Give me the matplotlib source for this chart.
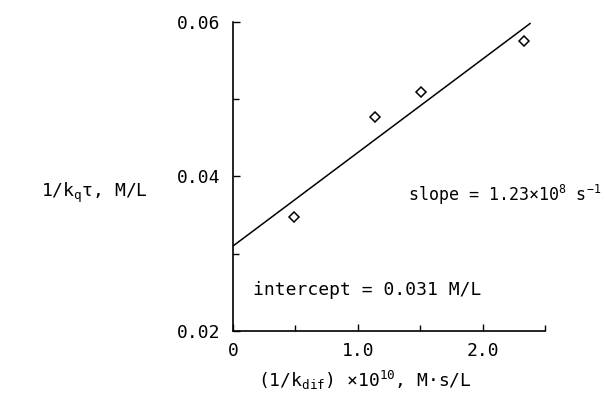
import matplotlib
matplotlib.use("Agg")
import matplotlib.pyplot as plt
from matplotlib.ticker import FixedLocator

# data
x_points = [0.49, 1.14, 1.51, 2.33]
y_points = [0.0348, 0.0477, 0.0510, 0.0575]
fit_x = [0.0, 2.38]
fit_y = [0.031, 0.0598]
x_major = [0, 1.0, 2.0]
x_major_labels = ["0", "1.0", "2.0"]
x_minor = [0.5, 1.5, 2.5]
y_major = [0.02, 0.04, 0.06]
y_major_labels = ["0.02", "0.04", "0.06"]
y_minor = [0.03, 0.05]

FONT = 'DejaVu Sans Mono'
plt.rcParams['font.family'] = [FONT, 'DejaVu Sans']
plt.rcParams['mathtext.fontset'] = 'custom'
plt.rcParams['mathtext.rm'] = FONT
plt.rcParams['mathtext.it'] = FONT + ':italic'
plt.rcParams['mathtext.bf'] = FONT + ':bold'
FS = 13

W, H = 605, 397
fig = plt.figure(figsize=(W / 100, H / 100), dpi=100)
ax = fig.add_axes([233 / W, 1 - 331 / H, (545 - 233) / W, (331 - 22) / H])

ax.plot(fit_x, fit_y, color='black', lw=1.1)
ax.plot(x_points, y_points, linestyle='none', marker='D', markersize=5,
        markerfacecolor='white', markeredgecolor='black', markeredgewidth=1.1)

ax.set_xlim(0, 2.5)
ax.set_ylim(0.02, 0.06)
for s in ['top', 'right']:
    ax.spines[s].set_visible(False)
for s in ['left', 'bottom']:
    ax.spines[s].set_linewidth(1.2)

ax.xaxis.set_major_locator(FixedLocator(x_major))
ax.set_xticklabels(x_major_labels)
ax.xaxis.set_minor_locator(FixedLocator(x_minor))
ax.yaxis.set_major_locator(FixedLocator(y_major))
ax.set_yticklabels(y_major_labels)
ax.yaxis.set_minor_locator(FixedLocator(y_minor))

ax.tick_params(axis='both', which='both', direction='in', width=1.0, labelsize=FS)
ax.tick_params(axis='both', which='major', length=5)
ax.tick_params(axis='both', which='minor', length=4)
ax.tick_params(axis='y', pad=9)
ax.tick_params(axis='x', pad=8)

fig.text(148 / W, 1 - 193 / H, r'1/k$_\mathrm{q}$τ, M/L', fontsize=FS, ha='right', va='center')
fig.text(601 / W, 1 - 195 / H, r'slope = 1.23×10$^\mathrm{8}$ s$^\mathrm{-1}$', fontsize=12,
         ha='right', va='center')
fig.text(253 / W, 1 - 290 / H, 'intercept = 0.031 M/L', fontsize=FS, ha='left', va='center')
fig.text(365 / W, 1 - 380 / H, r'(1/k$_\mathrm{dif}$) ×10$^\mathrm{10}$, M·s/L', fontsize=FS,
         ha='center', va='center')

fig.savefig('out.png', dpi=100)
